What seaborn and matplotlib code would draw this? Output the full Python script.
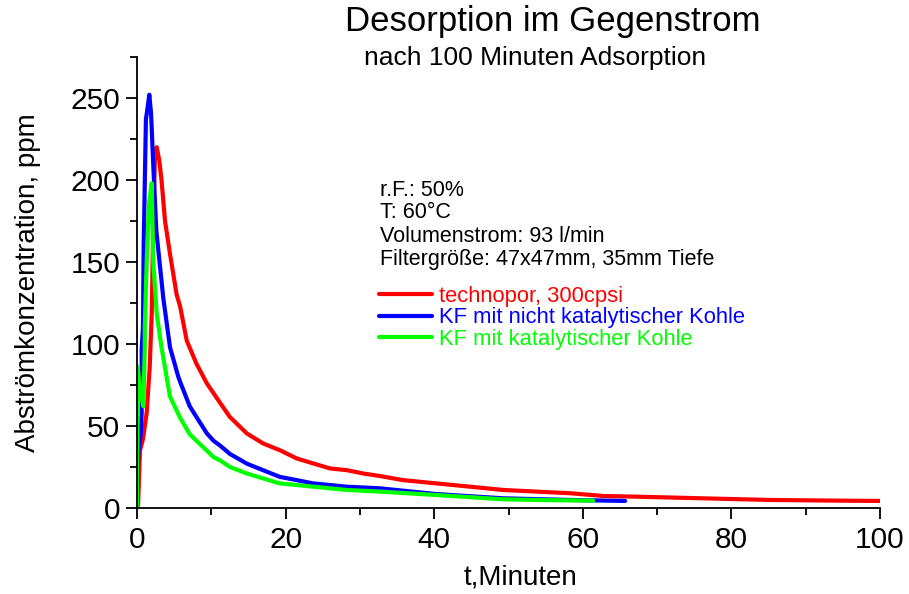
import matplotlib
matplotlib.use("Agg")
import matplotlib.pyplot as plt
from matplotlib.ticker import MultipleLocator
import seaborn as sns
import pandas as pd

# ---- data ----
t_red = [0.0, 0.15, 0.4, 0.8, 1.3, 1.7, 1.98, 2.2, 2.42, 2.65, 3.0, 3.3, 3.77, 4.44,
         5.34, 5.8, 6.7, 8.0, 9.4, 10.3, 11.2, 12.5, 14.8, 17.0, 19.2, 21.5, 23.7,
         26.0, 28.2, 30.5, 32.7, 35.8, 40.3, 44.8, 49.3, 53.8, 58.3, 62.8, 67.3,
         76.2, 85.2, 94.2, 100.0]
y_red = [0, 2, 35, 42, 58, 85, 118, 175, 215, 220, 212, 200, 175, 155,
         130, 123, 102, 88, 76, 70, 64, 55.5, 45.4, 39.3, 35.3, 30.2, 27.2,
         24.1, 23.1, 21, 19.5, 17, 15, 13, 11, 10, 9, 7.3, 6.9,
         5.9, 4.9, 4.5, 4.3]

t_blue = [0.0, 0.18, 0.5, 0.63, 0.63, 0.8, 0.9, 1.2, 1.45, 1.66, 1.9, 2.2, 2.6, 3.54,
          4.44, 5.56, 5.8, 7.1, 8.0, 9.4, 10.3, 11.2, 12.5, 14.8, 17.0, 19.2, 21.5,
          23.7, 26.0, 28.2, 32.7, 40.3, 49.3, 58.3, 65.7]
y_blue = [0, 34, 45, 58, 97, 110, 160, 237, 245, 252, 240, 208, 169, 128,
          98, 80, 77, 62, 55.5, 45.5, 41, 38, 33, 27, 23, 19, 17,
          15, 14, 13, 12, 8.5, 5.9, 4.9, 4.3]

t_green = [0.0, 0.1, 0.4, 0.85, 1.05, 1.05, 1.3, 1.6, 1.98, 2.2, 2.65, 3.3, 4.44,
           5.8, 7.1, 8.0, 9.4, 10.3, 11.2, 12.5, 14.8, 17.0, 19.2, 21.5, 23.7,
           28.2, 32.7, 40.3, 49.3, 55.0, 61.4]
y_green = [0, 86, 72, 62, 98, 110, 150, 185, 198, 149, 118.6, 98, 68,
           55, 45, 41, 35, 31, 29, 25, 21, 18, 15, 14, 13,
           11, 10, 7.9, 5.3, 4.8, 4.5]

labels = ["technopor, 300cpsi", "KF mit nicht katalytischer Kohle",
          "KF mit katalytischer Kohle"]
colors = ["#ff0000", "#0000ff", "#00ff00"]
info_lines = ["r.F.: 50%", "T: 60°C", "Volumenstrom: 93 l/min",
              "Filtergröße: 47x47mm, 35mm Tiefe"]
x_ticks = [0, 20, 40, 60, 80, 100]
y_ticks = [0, 50, 100, 150, 200, 250]

sns.set_style("ticks")
plt.rcParams["font.family"] = ["Liberation Sans", "DejaVu Sans"]
plt.rcParams.update({"text.color": "black", "axes.labelcolor": "black",
                     "xtick.color": "black", "ytick.color": "black"})

fig = plt.figure(figsize=(9.09, 5.94), dpi=100)
ax = fig.add_axes([137 / 909, 1 - 508 / 594, (880 - 137) / 909, (508 - 57) / 594])

series = [(t_red, y_red), (t_blue, y_blue), (t_green, y_green)]
for (tx, ty), lab, col in zip(series, labels, colors):
    df = pd.DataFrame({"t": tx, "c": ty})
    sns.lineplot(data=df, x="t", y="c", ax=ax, color=col, lw=3.0,
                 sort=False, estimator=None, label=lab)

ax.set_xlim(0, 100)
ax.set_ylim(0, 275)
ax.set_xticks(x_ticks)
ax.set_yticks(y_ticks)
ax.xaxis.set_minor_locator(MultipleLocator(10))
ax.yaxis.set_minor_locator(MultipleLocator(25))
ax.tick_params(which="major", length=8, width=1.3, labelsize=21.5, direction="out",
               colors="black")
ax.tick_params(which="minor", length=5, width=1.3, direction="out", colors="black")
ax.tick_params(axis="x", pad=5)
ax.tick_params(axis="y", pad=4)
for s in ["left", "bottom"]:
    ax.spines[s].set_linewidth(1.3)
    ax.spines[s].set_color("black")
sns.despine(ax=ax)
ax.margins(0)

ax.set_xlabel("t,Minuten", fontsize=20)
ax.set_ylabel("Abströmkonzentration, ppm", fontsize=20)
ax.xaxis.set_label_coords((521 - 137) / 743, -(578 - 508) / 451)
ax.yaxis.set_label_coords(-(137 - 28) / 743, 0.5)
ax.xaxis.label.set_va("center")
ax.yaxis.label.set_va("center")

# title and subtitle
fig.text(553 / 909, 1 - 22 / 594, "Desorption im Gegenstrom", fontsize=25,
         ha="center", va="center")
fig.text(535 / 909, 1 - 58 / 594, "nach 100 Minuten Adsorption", fontsize=19,
         ha="center", va="center")

# info block
for i, line in enumerate(info_lines):
    fig.text(380 / 909, 1 - (190 + 23 * i) / 594, line, fontsize=15.5,
             ha="left", va="center")

# legend
leg = ax.legend(loc="upper left", bbox_to_anchor=((379 - 137) / 743, (508 - 286) / 451),
                frameon=False, fontsize=15.8, handlelength=2.4, handletextpad=0.35,
                labelspacing=0.02, borderaxespad=0, borderpad=0)
for txt, col in zip(leg.get_texts(), colors):
    txt.set_color(col)

fig.savefig("out.png", dpi=100)
